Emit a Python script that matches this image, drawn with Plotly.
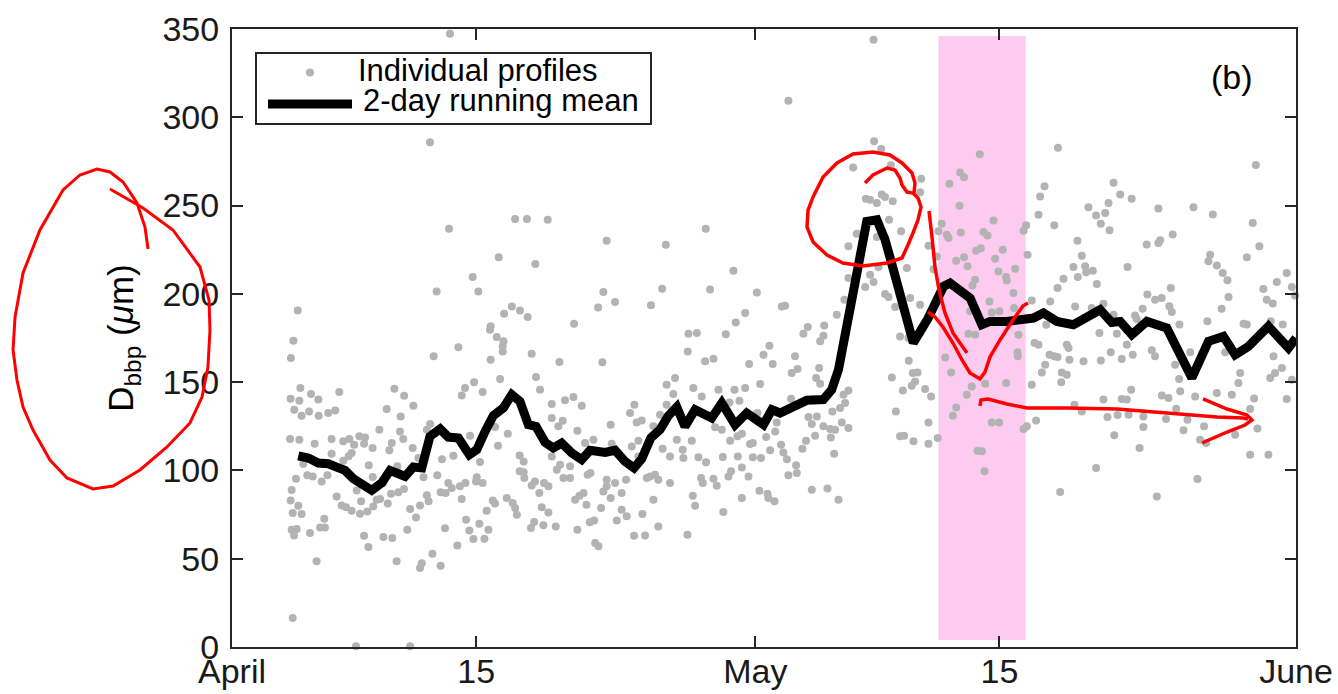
import datetime as dt
import plotly.graph_objects as go

START = dt.datetime(2015, 4, 1)

# ---- individual profiles: day offset from 1 April, D_bbp in micrometres ----
early_day = [
    3.52, 3.38, 3.92, 3.36, 3.86, 3.57, 3.99, 3.33, 3.86, 3.67,
    3.42, 3.36, 3.80, 3.48, 3.99, 3.42, 3.71, 3.56, 3.48, 4.53,
    4.95, 4.42, 4.97, 4.74, 4.09, 4.32, 4.63, 5.14, 5.29, 5.05,
    5.33, 4.47, 4.85, 5.52, 5.92, 5.71, 5.71, 5.47, 6.15, 6.38,
    6.73, 7.00, 7.30, 7.63, 7.57, 8.06, 6.69, 6.86, 6.38, 6.00,
    6.29, 6.54, 6.86, 7.34, 7.76, 7.40, 8.10, 8.30, 7.84, 8.07,
    7.15, 7.57, 7.82, 7.11, 9.31, 9.87, 10.40, 8.87, 9.67, 9.16,
    9.63, 9.82, 8.45, 9.02, 9.48, 8.68, 9.12, 9.54, 9.86, 8.49,
    8.93, 8.68, 9.19, 9.44, 10.05, 10.21, 10.55, 10.78, 10.36, 10.69,
    11.17, 11.36, 10.98, 11.17, 11.27, 10.21, 10.78, 10.88, 11.49, 11.96,
    11.56, 12.98, 12.04, 11.77, 11.96, 12.25, 12.40, 12.69, 12.60, 13.07,
    13.17, 13.38, 12.21, 12.92, 13.42, 13.61, 13.84, 14.18, 14.47, 14.70,
    14.60, 13.65, 14.22, 14.03, 13.99, 14.37, 13.17, 13.36, 13.88, 14.37,
    14.79, 15.18, 15.56, 15.52, 15.52, 14.83, 15.37, 15.08, 15.25, 15.81,
    14.95, 15.08, 15.75, 16.09, 16.23, 16.33, 16.49, 16.72, 16.49, 16.72,
    16.76, 17.18, 17.43, 17.66, 17.18, 17.37, 17.62, 17.89, 18.14, 17.76,
    18.14, 17.32, 17.14, 17.85, 18.56, 18.33, 18.33, 18.71, 18.96, 19.09,
    19.57, 20.05, 18.33, 18.81, 18.62, 19.00, 19.38, 19.38, 19.80, 19.80,
    18.77, 20.24, 20.72, 20.39, 20.55, 20.15, 19.92, 19.67, 20.32, 21.16,
    20.51, 20.76, 20.82, 21.01, 21.23, 21.71, 21.77, 21.48, 21.48, 21.29,
    21.71, 21.96, 22.06, 22.34, 22.34, 22.63, 22.59, 22.82, 23.07, 23.20,
    23.49, 22.92, 23.30, 23.05, 23.68, 23.53, 24.16, 24.44, 23.78, 23.97,
    24.25, 24.44, 23.30, 25.11, 24.69, 25.11, 25.50, 24.16, 24.92, 25.30,
    24.92, 25.40, 25.59, 24.54,
]
early_dbbp = [
    173.5, 163.7, 146.7, 140.6, 139.5, 134.4, 131.0, 117.8, 117.4, 95.3,
    88.9, 82.9, 80.0, 75.9, 75.3, 66.4, 66.8, 63.2, 16.4, 143.3,
    140.1, 133.4, 131.0, 115.1, 103.6, 97.2, 96.6, 93.8, 72.7, 67.7,
    67.7, 64.5, 48.5, 132.5, 134.0, 117.8, 109.5, 97.2, 144.4, 116.5,
    117.8, 114.6, 119.3, 118.7, 115.1, 112.7, 108.0, 109.8, 105.5, 85.3,
    80.2, 79.1, 77.2, 75.5, 76.8, 82.5, 79.6, 83.4, 102.9, 96.3,
    88.7, 63.0, 56.6, 0.4, 146.3, 142.3, 136.7, 134.8, 130.6, 115.5,
    122.1, 117.8, 123.1, 111.4, 102.3, 92.9, 86.8, 87.6, 89.5, 83.8,
    81.3, 62.3, 61.7, 48.5, 66.4, 78.1, 73.4, 80.2, 112.7, 107.0,
    123.1, 126.3, 96.1, 85.9, 82.5, 0.4, 44.7, 47.5, 52.8, 46.0,
    164.6, 169.7, 106.4, 97.2, 87.6, 87.2, 92.9, 108.3, 90.0, 91.0,
    83.8, 92.9, 67.2, 57.5, 72.1, 66.0, 61.1, 69.8, 61.3, 66.4,
    77.2, 119.7, 104.8, 96.1, 93.8, 92.9, 142.5, 146.7, 149.9, 144.4,
    179.7, 175.5, 173.1, 170.3, 167.4, 162.7, 151.8, 124.6, 114.0, 120.8,
    83.0, 81.2, 84.4, 81.5, 78.7, 74.9, 108.5, 105.1, 99.5, 98.9,
    95.7, 166.1, 152.9, 145.7, 91.5, 93.8, 87.2, 92.9, 91.0, 79.1,
    76.2, 70.8, 67.4, 68.9, 68.3, 137.6, 129.7, 125.0, 128.2, 139.7,
    141.6, 136.7, 107.9, 103.2, 100.4, 95.7, 102.3, 95.7, 122.5, 66.4,
    161.4, 115.5, 117.4, 97.6, 98.5, 87.2, 85.7, 83.4, 80.6, 78.7,
    70.6, 71.7, 58.9, 57.0, 161.2, 125.9, 115.1, 94.7, 91.0, 88.1,
    84.4, 92.9, 71.7, 87.2, 77.8, 74.0, 94.7, 132.5, 137.2, 127.2,
    128.3, 113.6, 116.8, 63.0, 63.2, 75.3, 83.4, 68.3, 95.7, 96.6,
    97.6, 94.7, 107.9, 92.9, 112.3, 107.9, 117.4, 125.0, 137.2, 143.3,
    148.5, 152.3, 132.5, 131.6,
]

april_high_day = [
    12.50, 11.35, 12.44, 16.23, 16.91, 18.10, 21.48, 24.87, 15.29, 17.39,
    13.80, 11.73, 14.12, 3.77, 21.29, 24.66, 21.96, 20.99, 24.02, 16.04,
    15.60, 16.51, 16.95, 14.83, 19.61,
]
april_high_dbbp = [
    347.3, 285.8, 236.9, 242.4, 242.4, 242.0, 230.1, 227.8, 220.7, 216.9,
    209.5, 201.4, 201.4, 190.6, 201.0, 202.9, 195.4, 192.3, 193.5, 192.9,
    188.8, 190.6, 186.9, 181.6, 183.1,
]

may_high_day = [
    36.78, 31.90, 36.81, 37.22, 37.77, 35.61, 39.51, 39.45, 36.34, 36.58,
    36.97, 37.25, 37.44, 37.88, 37.67, 38.36, 35.82, 36.97, 35.34, 27.16,
    28.75, 27.41, 30.09, 29.42, 28.88, 31.52, 31.71, 34.67, 33.01, 33.95,
    35.34, 36.58, 36.78, 36.30, 37.06, 38.69, 37.44, 37.64, 38.88, 39.45,
    38.02, 35.11,
    42.87, 41.74, 41.97, 41.13, 41.71, 43.66, 40.69, 40.50, 40.98, 41.08,
    41.78, 43.08, 43.31, 39.93, 40.41, 44.19, 42.66, 42.93, 43.75, 41.52,
    41.97, 42.17, 44.90, 43.94, 44.38, 44.42, 42.60, 42.45, 44.80, 43.43,
    43.56, 44.00, 44.84, 42.32, 40.22,
    47.35, 46.58, 46.33, 46.24, 47.14, 45.38, 45.53, 45.61, 50.54, 50.92,
    50.25, 49.10, 49.54, 50.06, 49.81, 50.31, 48.47, 48.72, 48.24, 48.91,
    48.49, 48.97, 49.35, 47.67, 47.33, 49.58, 51.34, 46.91, 45.85, 48.34,
    49.96, 46.68, 50.54, 49.29,
]
may_high_dbbp = [
    343.9, 309.4, 286.4, 282.0, 272.8, 271.6, 265.2, 257.5, 253.9, 253.3,
    251.4, 256.2, 254.8, 252.4, 242.0, 235.4, 234.1, 232.2, 226.9, 236.9,
    213.1, 202.4, 200.8, 189.1, 183.8, 192.9, 193.3, 188.2, 181.2, 182.1,
    209.0, 210.8, 206.7, 203.9, 215.2, 214.6, 199.9, 198.2, 197.6, 193.9,
    192.5, 196.7,
    279.0, 268.8, 266.0, 262.4, 249.9, 241.6, 239.7, 235.4, 233.5, 231.6,
    234.8, 235.0, 233.1, 227.3, 221.2, 225.0, 224.4, 225.9, 219.9, 218.8,
    220.7, 215.6, 214.2, 212.7, 209.5, 207.6, 208.0, 204.8, 200.5, 195.7,
    189.5, 190.1, 192.0, 190.1, 214.0,
    282.8, 260.9, 255.2, 244.8, 238.8, 235.8, 238.8, 222.2, 262.9, 256.2,
    251.4, 249.0, 244.4, 245.8, 239.7, 236.0, 230.1, 221.6, 215.2, 215.6,
    209.5, 212.2, 213.1, 208.6, 203.3, 205.6, 215.2, 195.7, 196.3, 192.9,
    194.4, 182.5, 188.2, 192.0,
]

late_high_day = [
    51.58, 53.11, 55.12, 56.23, 58.52, 52.44, 53.11, 53.21, 53.93, 56.08,
    55.98, 56.46, 56.80, 57.07, 58.18, 58.90, 60.47, 59.13, 59.90, 60.76,
    60.95, 59.32, 59.67, 57.13, 56.74, 55.92, 53.82, 52.48, 52.92, 53.30,
    53.74, 53.88, 54.32, 52.21, 51.77, 51.87, 57.99, 58.18, 59.55, 60.24,
    58.70,
]
late_high_dbbp = [
    253.9, 248.3, 249.0, 244.9, 240.2, 227.9, 228.8, 230.3, 233.6, 222.2,
    218.4, 216.0, 211.8, 207.7, 220.7, 226.9, 211.8, 202.8, 206.7, 203.9,
    199.0, 196.7, 194.5, 198.2, 191.5, 184.5, 203.3, 199.6, 196.7, 197.7,
    193.0, 189.7, 182.6, 191.5, 187.7, 185.8, 183.0, 182.6, 184.5, 182.6,
    273.0,
]

late_low_day = [
    51.64, 52.73, 52.92, 54.93, 54.07, 54.30, 56.94, 57.80, 57.70, 59.71,
    60.19, 59.52, 59.80, 60.76, 60.47, 51.55, 52.25, 52.25, 52.03, 53.31,
    53.69, 54.36, 54.13, 53.55, 54.78, 54.55, 55.22, 55.73, 55.50, 55.85,
    56.46, 57.32, 58.60, 58.37, 58.79, 57.51, 58.37, 59.42, 55.35, 53.02,
]
late_low_dbbp = [
    165.5, 168.0, 164.6, 166.9, 159.9, 151.8, 166.9, 155.2, 149.5, 164.6,
    158.0, 152.3, 155.2, 151.4, 140.4, 145.7, 130.6, 124.6, 112.7, 142.5,
    141.0, 144.8, 135.0, 129.1, 128.7, 122.7, 141.9, 125.0, 117.4, 115.5,
    143.8, 142.9, 140.8, 134.8, 123.8, 120.2, 108.9, 108.9, 95.1, 85.3,
]

may_low_day = [
    26.17, 26.65, 28.31, 26.13, 27.12, 27.60, 29.65, 30.47, 30.81, 31.00,
    32.28, 33.72, 33.91, 33.66, 33.49, 33.72, 32.76, 32.09, 32.42, 30.28,
    26.45, 27.89, 28.81, 29.42, 26.93, 28.52, 29.09, 32.05, 35.34, 35.06,
    35.15, 34.86, 34.42, 33.05, 33.53, 33.24, 33.91, 34.29, 34.58, 35.34,
    34.96, 30.12, 31.23, 31.14, 27.70, 28.08, 28.56, 28.98, 29.23, 29.70,
    29.86, 30.62, 30.85, 31.48, 31.61, 31.81, 32.34, 32.38, 31.90, 32.70,
    32.91, 33.43, 34.33, 34.52, 30.33, 29.86, 29.00, 28.14, 27.18, 26.74,
    25.84, 25.88, 26.36, 29.23, 28.61, 28.46, 27.60, 29.61, 26.89, 26.99,
    27.79, 30.24, 30.70, 30.75, 31.10, 29.23, 26.42, 26.55, 28.17, 33.24,
    34.14, 34.77, 26.11,
    38.30, 38.78, 38.80, 39.03, 39.30, 39.16, 38.97, 37.83, 38.46, 39.74,
    40.08, 38.06, 39.93, 38.30, 38.53, 39.07, 39.93, 40.46, 40.89, 41.23,
    42.13, 42.41, 43.18, 44.38, 41.52, 41.33, 43.56, 43.98, 42.74, 42.99,
    43.14, 45.57, 45.38, 46.10, 45.85, 45.05, 45.03, 45.09, 46.01, 46.24,
    46.87, 47.14, 47.33, 47.96, 47.86, 46.62, 46.43, 47.57, 47.86, 47.54,
    48.01, 48.82, 49.81, 50.38, 49.73, 50.73, 51.01, 51.30, 48.30, 48.72,
    49.96, 50.19, 50.77, 51.01, 51.30, 51.40, 50.58, 49.54, 47.48, 42.22,
    42.61,
]
may_low_dbbp = [
    177.4, 177.8, 177.1, 167.4, 161.8, 163.3, 160.3, 165.5, 170.6, 160.3,
    164.6, 173.1, 176.3, 158.0, 152.3, 149.1, 177.4, 155.2, 157.4, 148.9,
    146.7, 145.7, 145.7, 146.7, 141.9, 138.5, 139.5, 140.6, 145.2, 142.9,
    138.2, 135.3, 133.4, 130.2, 130.6, 126.3, 125.0, 123.4, 123.1, 124.0,
    127.2, 132.5, 127.2, 122.1, 124.4, 123.1, 116.8, 119.3, 120.8, 114.9,
    115.5, 118.9, 111.4, 114.6, 110.2, 106.4, 102.9, 98.5, 97.2, 112.3,
    116.8, 119.7, 118.7, 109.5, 107.0, 107.4, 107.9, 107.6, 104.6, 107.4,
    111.7, 107.0, 116.8, 101.7, 99.5, 96.6, 95.3, 96.6, 95.7, 92.9,
    91.3, 88.5, 86.8, 84.4, 82.5, 84.4, 85.7, 80.0, 76.4, 89.1,
    89.7, 83.4, 63.6,
    175.9, 175.0, 162.1, 155.2, 155.5, 150.4, 148.0, 152.7, 145.2, 146.1,
    141.9, 133.4, 127.2, 119.3, 119.7, 116.5, 115.1, 118.3, 164.0, 155.5,
    142.9, 147.6, 149.1, 149.5, 135.7, 131.0, 127.2, 127.2, 111.2, 110.8,
    99.5, 125.0, 123.4, 128.3, 148.5, 164.6, 166.9, 176.9, 172.1, 171.2,
    165.5, 164.6, 164.2, 169.3, 171.2, 159.9, 155.5, 155.5, 154.2, 149.9,
    162.7, 161.8, 162.3, 166.9, 177.8, 177.4, 163.1, 171.2, 137.2, 133.4,
    140.1, 130.2, 131.4, 140.4, 140.1, 131.6, 119.9, 101.4, 87.8, 177.4,
    176.9,
]

# ---- 2-day running mean ----
mean_day = [
    3.80, 4.38, 4.95, 5.52, 6.00, 6.48, 6.96, 7.53, 8.01, 8.58,
    9.06, 9.54, 9.92, 10.40, 10.88, 11.35, 11.93, 12.40, 12.98, 13.61,
    14.03, 14.51, 14.98, 15.56, 16.04, 16.51, 16.99, 17.43, 17.95, 18.42,
    18.90, 19.48, 20.05, 20.53, 21.39, 21.96, 22.53, 23.05, 23.49, 24.01,
    24.54, 25.02, 25.50, 25.97, 26.55, 27.50, 28.08, 28.84, 29.51, 30.47,
    30.95, 31.42, 32.18, 32.95, 33.90, 34.38, 34.77, 35.05, 35.24, 35.84,
    36.39, 36.97, 37.44, 37.92, 38.49, 39.06, 39.90, 40.79, 41.17, 42.32,
    42.99, 43.46, 44.42, 45.95, 46.52, 47.29, 48.24, 49.00, 49.77, 50.44,
    50.92, 51.59, 52.45, 53.59, 54.36, 55.03, 55.98, 56.84, 57.51, 58.27,
    59.42, 60.57, 61.00,
]
mean_dbbp = [
    108.3, 107.0, 104.2, 103.8, 101.9, 100.0, 95.3, 91.9, 88.7, 92.9,
    100.0, 98.1, 96.6, 101.9, 101.4, 119.3, 123.5, 118.9, 118.4, 108.9,
    111.7, 122.1, 131.0, 135.4, 142.9, 139.1, 125.9, 124.9, 115.9, 112.7,
    115.5, 109.9, 106.1, 111.4, 110.2, 111.4, 105.1, 101.4, 106.5, 118.4,
    123.1, 131.0, 135.9, 124.9, 134.4, 129.7, 138.2, 125.9, 132.5, 125.9,
    134.4, 132.5, 136.7, 139.7, 140.1, 145.7, 157.1, 172.2, 179.7, 217.5,
    241.0, 242.0, 230.7, 213.7, 192.9, 172.2, 186.0, 204.2, 206.1, 197.6,
    182.5, 184.4, 184.4, 186.3, 189.2, 184.4, 182.5, 187.2, 191.0, 183.8,
    184.4, 176.9, 184.4, 180.7, 166.5, 152.4, 173.1, 175.9, 165.5, 170.2,
    181.6, 169.3, 175.0,
]

# shaded period (days after 1 April) and its vertical extent
window_days = (40.5, 45.5)
window_dbbp = (4, 346)

tick_days = [0, 14, 30, 44, 61]
tick_labels = ["April", "15", "May", "15", "June"]

profile_day = early_day + april_high_day + may_high_day + late_high_day + late_low_day + may_low_day
profile_dbbp = early_dbbp + april_high_dbbp + may_high_dbbp + late_high_dbbp + late_low_dbbp + may_low_dbbp
assert len(profile_day) == len(profile_dbbp), (len(profile_day), len(profile_dbbp))
assert len(mean_day) == len(mean_dbbp), (len(mean_day), len(mean_dbbp))


def as_date(d):
    return START + dt.timedelta(days=d)


W, H = 1338, 694
ML, MR, MT, MB = 232, 42, 29, 47
PW, PH = W - ML - MR, H - MT - MB


def canvas_to_paper(px, py):
    return (px - ML) / PW, (H - MB - py) / PH


def ink_path(points):
    pts = [canvas_to_paper(x, y) for x, y in points]
    return "M " + " L ".join(f"{x:.4f},{y:.4f}" for x, y in pts)


FONT = "Liberation Sans, Arial, Helvetica, sans-serif"
AXIS = "#262626"

fig = go.Figure()
fig.add_trace(go.Scatter(
    x=[as_date(d) for d in profile_day], y=profile_dbbp,
    mode="markers", name="Individual profiles",
    marker=dict(size=8, color="#B3B3B3", line=dict(width=0)),
    cliponaxis=False, showlegend=False, hoverinfo="skip",
))
fig.add_trace(go.Scatter(
    x=[as_date(d) for d in mean_day], y=mean_dbbp,
    mode="lines", name="2-day running mean",
    line=dict(color="black", width=9),
    showlegend=False, hoverinfo="skip",
))

shapes = [
    dict(type="rect", xref="x", yref="y",
         x0=as_date(window_days[0]), x1=as_date(window_days[1]),
         y0=window_dbbp[0], y1=window_dbbp[1],
         fillcolor="#FECBF0", line=dict(width=0), layer="below"),
]

# legend box
lx0, ly1 = canvas_to_paper(256, 53)
lx1, ly0 = canvas_to_paper(651, 124)
shapes.append(dict(type="rect", xref="paper", yref="paper", x0=lx0, x1=lx1, y0=ly0, y1=ly1,
                   fillcolor="white", line=dict(color=AXIS, width=2), layer="above"))
mx, my = canvas_to_paper(310, 72.5)
shapes.append(dict(type="circle", xref="paper", yref="paper",
                   x0=mx - 4 / PW, x1=mx + 4 / PW, y0=my - 4 / PH, y1=my + 4 / PH,
                   fillcolor="#B3B3B3", line=dict(width=0), layer="above"))
sx0, sy = canvas_to_paper(268, 104)
sx1, _ = canvas_to_paper(352, 104)
shapes.append(dict(type="line", xref="paper", yref="paper", x0=sx0, x1=sx1, y0=sy, y1=sy,
                   line=dict(color="black", width=9), layer="above"))

# red ink marks, in canvas pixels
ink_strokes = [
    [(148, 249), (145, 227), (137, 203), (123, 182), (110, 172), (97, 169), (80, 175), (63, 190),
     (40, 230), (23, 273), (15, 317), (13, 350), (17, 380), (23, 407), (33, 430), (50, 460),
     (67, 478), (93, 489), (113, 486), (140, 470), (167, 447), (190, 423), (202, 397), (208, 367),
     (210, 330), (209, 300), (200, 267), (173, 230), (143, 208), (110, 189)],
    [(865, 183), (873, 175), (887, 168), (895, 170), (900, 178), (902, 185), (907, 192), (913, 193),
     (918, 198), (921, 207), (918, 220), (913, 233), (908, 245), (902, 258), (887, 263), (863, 266),
     (843, 263), (827, 255), (813, 242), (807, 227), (808, 210), (813, 197), (823, 177), (837, 163),
     (853, 154), (873, 152), (890, 155), (902, 163), (912, 173), (915, 183), (914, 193)],
    [(929, 211), (932, 237), (935, 267), (939, 290), (945, 313), (953, 333), (967, 353)],
    [(928, 312), (935, 317), (943, 327), (953, 343), (962, 360), (970, 373), (980, 379), (985, 372),
     (990, 357), (1000, 340), (1013, 320), (1023, 306), (1028, 303)],
    [(980, 406), (981, 400), (988, 399), (1007, 404), (1027, 408), (1067, 408), (1117, 409),
     (1167, 413), (1217, 417), (1243, 418), (1248, 419)],
    [(1203, 399), (1213, 403), (1227, 409), (1247, 415), (1252, 420), (1245, 425), (1227, 432),
     (1202, 443)],
]
for i, stroke in enumerate(ink_strokes):
    shapes.append(dict(type="path", xref="paper", yref="paper", path=ink_path(stroke),
                       line=dict(color="#FF0000", width=3 if i == 0 else 3.5), layer="above"))

ax0, ay0 = canvas_to_paper(356, 70)
ax1, ay1 = canvas_to_paper(361, 101)
bx, by = canvas_to_paper(1232, 77)
annotations = [
    dict(text="Individual profiles", xref="paper", yref="paper", x=ax0, y=ay0,
         xanchor="left", yanchor="middle", showarrow=False, font=dict(size=31, color="black")),
    dict(text="2-day running mean", xref="paper", yref="paper", x=ax1, y=ay1,
         xanchor="left", yanchor="middle", showarrow=False, font=dict(size=31, color="black")),
    dict(text="(b)", xref="paper", yref="paper", x=bx, y=by,
         xanchor="center", yanchor="middle", showarrow=False, font=dict(size=34, color="black")),
]

axis_common = dict(
    showline=True, linecolor=AXIS, linewidth=2, mirror="ticks",
    ticks="inside", ticklen=11, tickwidth=2, tickcolor=AXIS,
    showgrid=False, zeroline=False, automargin=False,
    tickfont=dict(size=34, color="#1a1a1a", family=FONT),
)

fig.update_layout(
    width=W, height=H, autosize=False,
    margin=dict(l=ML, r=MR, t=MT, b=MB, pad=0),
    paper_bgcolor="white", plot_bgcolor="white",
    font=dict(family=FONT, color="black"),
    showlegend=False,
    shapes=shapes, annotations=annotations,
    xaxis=dict(
        type="date", range=[as_date(0), as_date(61)],
        tickmode="array", tickvals=[as_date(d) for d in tick_days], ticktext=tick_labels,
        ticklabelstandoff=-7,
        **axis_common,
    ),
    yaxis=dict(
        range=[0, 350], tickmode="array", tickvals=list(range(0, 351, 50)),
        ticklabelstandoff=4,
        title=dict(text="D<sub>bbp</sub> (<i>μ</i>m)", font=dict(size=35, color="black", family=FONT),
                   standoff=18),
        **axis_common,
    ),
)

fig.write_html("out.html")
